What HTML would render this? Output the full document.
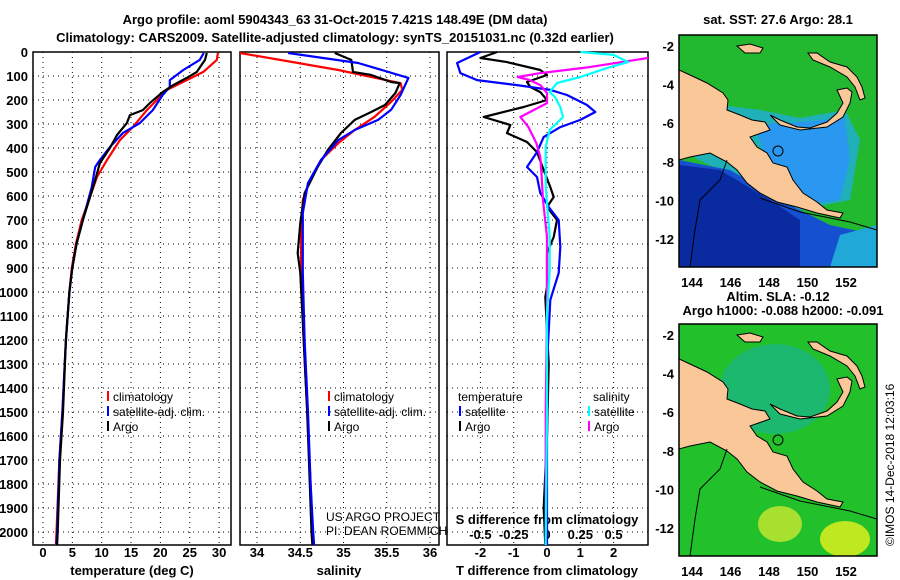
<!DOCTYPE html>
<html><head><meta charset="utf-8"><style>
html,body{margin:0;padding:0;background:#fff;width:900px;height:580px;overflow:hidden}
svg{display:block;font-family:"Liberation Sans",Arial,sans-serif}
.b{font-weight:bold;font-size:13px}
</style></head><body>
<svg id="s" width="900" height="580" viewBox="0 0 900 580" xmlns="http://www.w3.org/2000/svg">
<text x="335" y="24" text-anchor="middle" class="b" font-size="14">Argo profile: aoml 5904343_63 31-Oct-2015 7.421S 148.49E (DM data)</text>
<text x="335" y="42" text-anchor="middle" class="b" font-size="14">Climatology: CARS2009. Satellite-adjusted climatology: synTS_20151031.nc (0.32d earlier)</text>
<text x="778" y="24" text-anchor="middle" class="b" font-size="12">sat. SST: 27.6 Argo: 28.1</text>
<text x="778" y="301" text-anchor="middle" class="b" font-size="12">Altim. SLA: -0.12</text>
<text x="783" y="315" text-anchor="middle" class="b" font-size="12">Argo h1000: -0.088 h2000: -0.091</text>
<text transform="translate(894,546) rotate(-90)" font-size="12">©IMOS 14-Dec-2018 12:03:16</text>
<text x="326" y="521" font-size="12">US ARGO PROJECT</text>
<text x="326" y="535" font-size="12">PI: DEAN ROEMMICH</text>
</svg>
<script>
// ---- data (depth in m) ----
const tempClimDepth=[4,33,83,117,158,200,242,313,367,450,521,604,700,800,900,1000,1200,1500,1700,2000,2054];
const tempClimVals=[29.8,29.6,27.3,24.5,21.1,19.4,17.7,15.3,13.1,10.9,9.2,8.0,6.6,5.6,4.9,4.5,3.9,3.3,2.8,2.3,2.2];
const tempSatDepth=[4,33,75,117,146,179,242,296,338,396,450,479,563,700,800,900,1000,1200,1500,1700,2000,2054];
const tempSatVals=[27.4,26.7,23.9,21.6,21.6,20.4,18.7,16.5,13.6,11.4,9.7,8.9,8.3,6.8,5.7,5.0,4.5,3.9,3.3,2.8,2.4,2.3];
const tempArgoDepth=[4,33,83,108,138,167,213,242,263,296,346,400,463,533,604,700,800,900,1000,1200,1500,1700,2000,2054];
const tempArgoVals=[27.9,27.6,26.2,24.5,22.2,20.4,18.2,17.0,14.8,14.3,12.6,11.4,9.7,8.9,8.0,6.8,5.7,5.0,4.5,3.9,3.4,2.9,2.5,2.4];
const salClimDepth=[4,75,130,158,208,270,325,380,450,533,617,730,920,1200,1500,1800,2000,2054];
const salClimVals=[33.78,34.94,35.66,35.68,35.55,35.36,35.13,34.94,34.74,34.61,34.53,34.51,34.51,34.54,34.58,34.62,34.64,34.65];
const salSatDepth=[4,46,108,179,241,283,325,367,450,546,671,920,1200,1500,1800,2000,2054];
const salSatVals=[34.36,35.17,35.75,35.66,35.55,35.40,35.13,34.94,34.74,34.59,34.53,34.53,34.55,34.59,34.62,34.65,34.66];
const salArgoDepth=[4,33,83,96,125,130,171,221,250,283,338,408,479,588,713,838,920,1200,1500,1800,2000,2054];
const salArgoVals=[34.90,35.09,35.11,35.32,35.55,35.65,35.60,35.48,35.32,35.13,34.97,34.82,34.70,34.55,34.50,34.47,34.50,34.54,34.58,34.61,34.63,34.64];
const dTSatDepth=[0,46,88,117,138,158,179,221,250,283,313,354,417,479,521,588,646,700,813,921,1033,1300,1600,2054];
const dTSatVals=[-2.0,-2.7,-2.6,-2.1,-0.9,0.1,0.6,1.2,1.45,1.0,0.4,-0.1,-0.3,-0.6,-0.3,-0.2,0.05,0.35,0.4,0.35,0.1,0.0,0.0,0.0];
const dTArgoDepth=[0,25,42,75,96,125,146,167,200,229,271,304,338,375,417,492,563,604,646,700,771,838,979,1021,1300,1600,1900,2054];
const dTArgoVals=[-1.5,-2.0,-1.2,-0.2,0,-0.6,-0.5,-0.2,0,-0.7,-1.9,-1.1,-1.2,-0.6,-0.3,-0.1,0.1,0.2,0,0.3,0.2,0,0,-0.05,0.05,0,-0.1,-0.05];
const dSSatDepth=[0,12,42,67,104,129,167,188,229,271,325,396,563,771,908,1088,1500,2054];
const dSSatVals=[0.25,0.5,0.61,0.45,0.25,0.075,0.02,0.06,0.1,0.12,0.02,-0.01,-0.01,0.02,0.02,0,0,-0.01];
const dSArgoDepth=[25,63,88,104,117,138,171,213,271,313,379,438,521,617,771,979,1088,1500,2054];
const dSArgoVals=[0.77,0.32,-0.05,-0.22,-0.13,-0.05,0,0,-0.2,-0.14,-0.08,-0.05,-0.04,-0.03,0,0,0,-0.01,-0.01];
const depthTicks=[0,100,200,300,400,500,600,700,800,900,1000,1100,1200,1300,1400,1500,1600,1700,1800,1900,2000];
const tempTicks=[0,5,10,15,20,25,30];
const salTicks=[34,34.5,35,35.5,36];
const salTickLabels=["34","34.5","35","35.5","36"];
const dTTicks=[-2,-1,0,1,2];
const dSTicks=[-0.5,-0.25,0,0.25,0.5];
const dSTickLabels=["-0.5","-0.25","0","0.25","0.5"];
const lonTicks=[144,146,148,150,152];
const latTicks=[-2,-4,-6,-8,-10,-12];

const S=document.getElementById('s'),NS='http://www.w3.org/2000/svg';
function mk(tag,at,parent){const e=document.createElementNS(NS,tag);for(const k in at)e.setAttribute(k,at[k]);(parent||S).appendChild(e);return e;}
const TOP=52,BOT=545,yD=d=>TOP+d*0.24;
const P1={l:33,r:231},P2={l:240,r:439},P3={l:447,r:648};
const xT=t=>43+t*5.87, xS=s=>257+(s-34)*86.5, xDT=t=>547+t*33.3, xDS=s=>547+s*133.2;

function panel(P,name,vx){
  const g=mk('g',{});
  
  
  depthTicks.forEach(d=>{const l=mk('line',{x1:P.l,x2:P.r,y1:yD(d),y2:yD(d),stroke:'#000','stroke-width':1,'stroke-dasharray':'1,4'},g);
    });
  vx.forEach(x=>{const l=mk('line',{x1:x,x2:x,y1:TOP,y2:BOT,stroke:'#000','stroke-width':1,'stroke-dasharray':'1,4'},g);
    });
  const r=mk('rect',{x:P.l,y:TOP,width:P.r-P.l,height:BOT-TOP,fill:'none',stroke:'#000','stroke-width':1.5},g);
  
  return g;
}
function line(ds,vs,fx,col,name,P){
  const pts=ds.map((d,i)=>Math.max(P.l,Math.min(P.r,fx(vs[i]))).toFixed(1)+','+yD(d).toFixed(1)).join(' ');
  const p=mk('polyline',{points:pts,fill:'none',stroke:col,'stroke-width':2.2,'stroke-linejoin':'round'});
  
  
}
function txt(x,y,s,a,cls,name,fs){const t=mk('text',{x:x,y:y,'text-anchor':a||'start'});if(cls)t.setAttribute('class',cls);if(fs)t.setAttribute('font-size',fs);t.textContent=s;
  return t;}

panel(P1,'temperature-panel',tempTicks.map(xT));
panel(P2,'salinity-panel',salTicks.map(xS));
panel(P3,'difference-panel',dTTicks.map(xDT));
depthTicks.forEach(d=>txt(28,yD(d)+5,String(d),'end','b','depth-tick-label'));
tempTicks.forEach(t=>txt(xT(t),557,String(t),'middle','b','temperature-tick-label'));
salTicks.forEach((s,i)=>txt(xS(s),557,salTickLabels[i],'middle','b','salinity-tick-label'));
dTTicks.forEach(t=>txt(xDT(t),557,String(t),'middle','b','t-diff-tick-label'));
dSTicks.forEach((s,i)=>txt(xDS(s),539,dSTickLabels[i],'middle','b','s-diff-tick-label',12));
txt(132,575,'temperature (deg C)','middle','b','temperature-axis-title');
txt(339,575,'salinity','middle','b','salinity-axis-title');
txt(547,575,'T difference from climatology','middle','b','t-diff-axis-title');
txt(547,524,'S difference from climatology','middle','b','s-diff-axis-title',12);

line(tempClimDepth,tempClimVals,xT,'#f00','temperature-climatology-line',P1);
line(tempSatDepth,tempSatVals,xT,'#00f','temperature-satellite-line',P1);
line(tempArgoDepth,tempArgoVals,xT,'#000','temperature-argo-line',P1);
line(salClimDepth,salClimVals,xS,'#f00','salinity-climatology-line',P2);
line(salArgoDepth,salArgoVals,xS,'#000','salinity-argo-line',P2);
line(salSatDepth,salSatVals,xS,'#00f','salinity-satellite-line',P2);
line(dTArgoDepth,dTArgoVals,xDT,'#000','t-diff-argo-line',P3);
line(dTSatDepth,dTSatVals,xDT,'#00f','t-diff-satellite-line',P3);
line(dSArgoDepth,dSArgoVals,xDS,'#f0f','s-diff-argo-line',P3);
line(dSSatDepth,dSSatVals,xDS,'#0ff','s-diff-satellite-line',P3);

function legend(x,y,items,name){
  items.forEach((it,i)=>{const yy=y+i*15;
    const l=mk('line',{x1:x,x2:x,y1:yy-10,y2:yy,stroke:it[1],'stroke-width':2});
    
    txt(x+5,yy,it[0],'start',null,name+'-label',12);});
}
legend(108,401,[['climatology','#f00'],['satellite-adj. clim.','#00f'],['Argo','#000']],'temp-legend');
legend(329,401,[['climatology','#f00'],['satellite-adj. clim.','#00f'],['Argo','#000']],'sal-legend');
txt(458,401,'temperature','start',null,'diff-legend-header',12);
txt(593,401,'salinity','start',null,'diff-legend-header',12);
legend(460,416,[['satellite','#00f'],['Argo','#000']],'t-diff-legend');
legend(589,416,[['satellite','#0ff'],['Argo','#f0f']],'s-diff-legend');

// ---- maps ----
const land1=[[679,70],[690,75],[707,83],[723,93],[728,100],[727,110],[740,115],[752,120],[765,122],[770,130],[750,137],[757,147],[767,153],[773,163],[787,167],[793,180],[803,193],[817,202],[827,210],[843,213],[840,218],[817,213],[797,207],[777,202],[760,193],[747,183],[737,170],[727,162],[710,153],[690,157],[679,160]];
const land2=[[770,115],[780,120],[797,127],[810,128],[827,122],[837,113],[843,103],[837,90],[847,88],[852,92],[850,103],[843,117],[827,127],[800,130],[780,125]];
const land3=[[808,53],[817,53],[830,62],[847,67],[857,77],[862,87],[865,98],[860,100],[855,87],[847,77],[830,67],[813,60]];
const land4=[[737,46],[750,44],[763,48],[760,53],[745,53]];
function map(dy,name,sst){
  const g=mk('g',{transform:'translate(0,'+dy+')'});
  
  const cid='c'+dy;const cp=mk('clipPath',{id:cid},g);mk('rect',{x:679,y:35,width:198,height:232},cp);
  const c=mk('g',{'clip-path':'url(#'+cid+')'},g);
  if(sst){
    mk('rect',{x:679,y:35,width:198,height:232,fill:'#22b830'},c);
    mk('polygon',{points:'679,150 720,105 760,110 800,118 845,110 860,140 850,200 800,210 740,180',fill:'#20b0b8'},c);
    mk('polygon',{points:'755,125 800,122 845,118 850,160 840,200 800,205 770,170',fill:'#2a98f0'},c);
    mk('polygon',{points:'679,160 730,170 790,205 830,225 877,235 877,267 679,267',fill:'#1550d0'},c);
    mk('polygon',{points:'679,165 720,170 770,200 800,220 800,267 679,267',fill:'#0a2aa0'},c);
    mk('polygon',{points:'840,235 877,225 877,267 830,267',fill:'#20a8d8'},c);
  } else {
    mk('rect',{x:679,y:35,width:198,height:232,fill:'#22c02a'},c);
    mk('ellipse',{cx:775,cy:100,rx:55,ry:45,fill:'#1cb870'},c);
    mk('ellipse',{cx:780,cy:235,rx:22,ry:18,fill:'#a8e030'},c);
    mk('ellipse',{cx:845,cy:250,rx:25,ry:18,fill:'#c0e820'},c);
  }
  [land1,land2,land3,land4].forEach(L=>mk('polygon',{points:L.map(p=>p.join(',')).join(' '),fill:'#fac898',stroke:'#000','stroke-width':1},c));
  mk('polyline',{points:'727,160 720,180 700,200 695,230 690,267',fill:'none',stroke:'#000','stroke-width':1},c);
  mk('polyline',{points:'760,198 800,212 850,222 877,230',fill:'none',stroke:'#000','stroke-width':1},c);
  mk('circle',{cx:778,cy:151,r:5,fill:'none',stroke:'#000','stroke-width':1},c);
  mk('rect',{x:679,y:35,width:198,height:232,fill:'none',stroke:'#000','stroke-width':1.5},g);
  lonTicks.forEach(lon=>{const x=692+(lon-144)*19.25;
    const t=mk('text',{x:x,y:287,'text-anchor':'middle',class:'b'},g);t.textContent=String(lon);
    });
  latTicks.forEach(lat=>{const y=46+(-lat-2)*19.3;
    const t=mk('text',{x:674,y:y+5,'text-anchor':'end',class:'b'},g);t.textContent=String(lat);
    });
}
map(0,'sst-map',true);
map(289,'sla-map',false);
</script>
</body></html>
